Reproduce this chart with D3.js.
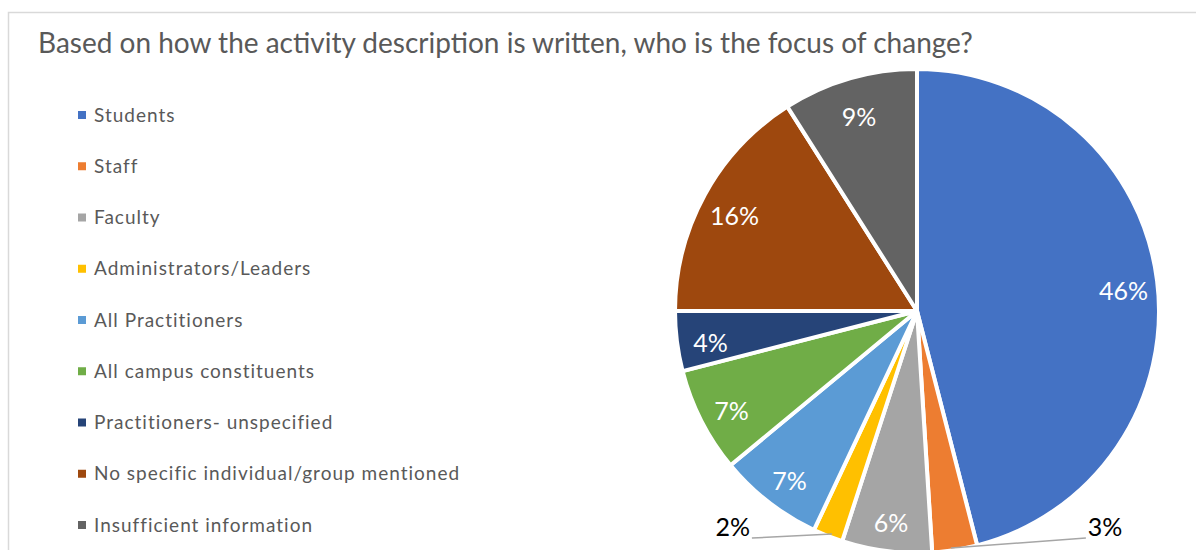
<!DOCTYPE html>
<html>
<head>
<meta charset="utf-8">
<script src="https://cdn.jsdelivr.net/npm/d3@7"></script>
<style>
  html, body { margin: 0; padding: 0; background: #fff; }
  svg { display: block; }
</style>
</head>
<body>
<svg id="chart" width="1196" height="550"></svg>
<script>
// Who is the focus of change, by share of activity descriptions (%)
const categories = [
  "Students",
  "Staff",
  "Faculty",
  "Administrators/Leaders",
  "All Practitioners",
  "All campus constituents",
  "Practitioners- unspecified",
  "No specific individual/group mentioned",
  "Insufficient information"
];
const shares = [46, 3, 6, 2, 7, 7, 4, 16, 9];
const sliceColors = [
  "#4472C4", "#ED7D31", "#A5A5A5", "#FFC000", "#5B9BD5",
  "#70AD47", "#264478", "#9E480E", "#636363"
];
const titleText = "Based on how the activity description is written, who is the focus of change?";

// Small slices get their label outside with a leader line (side: +1 right, -1 left)
const outsideLabels = { "Staff": 1, "Administrators/Leaders": -1 };

const svg = d3.select("#chart");
const W = 1196, H = 550;
const FONT = "Lato, 'Open Sans', sans-serif";

// chart area frame
svg.append("rect")
  .attr("x", 8.5).attr("y", 12.5)
  .attr("width", W + 20).attr("height", H + 20)
  .attr("fill", "#fff")
  .attr("stroke", "#d9d9d9")
  .attr("stroke-width", 1.5);

// title
svg.append("text")
  .attr("x", 38).attr("y", 53)
  .attr("font-family", FONT)
  .attr("font-size", 28)
  .attr("fill", "#595959")
  .text(titleText);

// legend
const legendY = d3.scalePoint()
  .domain(categories)
  .range([115, 525]);
const color = d3.scaleOrdinal().domain(categories).range(sliceColors);

const legend = svg.append("g").attr("class", "legend");
const item = legend.selectAll("g").data(categories).join("g")
  .attr("transform", d => `translate(78,${legendY(d)})`);
item.append("rect")
  .attr("x", 0).attr("y", -4)
  .attr("width", 8).attr("height", 8)
  .attr("fill", d => color(d));
item.append("text")
  .attr("x", 16).attr("y", 0)
  .attr("dy", "0.35em")
  .attr("font-family", FONT)
  .attr("font-size", 19)
  .attr("letter-spacing", 1.0)
  .attr("fill", "#595959")
  .text(d => d);

// pie
const cx = 917, cy = 311, R = 242;
const data = categories.map((c, i) => ({ name: c, value: shares[i] }));
const pie = d3.pie().value(d => d.value).sort(null);
const arcs = pie(data);
const arc = d3.arc().innerRadius(0).outerRadius(R);
const labelArc = d3.arc().innerRadius(R * 0.86).outerRadius(R * 0.86);
const edgeArc = d3.arc().innerRadius(R).outerRadius(R);

const g = svg.append("g").attr("transform", `translate(${cx},${cy})`);

g.selectAll("path.slice").data(arcs).join("path")
  .attr("class", "slice")
  .attr("d", arc)
  .attr("fill", d => color(d.data.name))
  .attr("stroke", "#fff")
  .attr("stroke-width", 4)
  .attr("stroke-linejoin", "round");

// inside labels
g.selectAll("text.inlabel")
  .data(arcs.filter(d => !(d.data.name in outsideLabels)))
  .join("text")
  .attr("class", "inlabel")
  .attr("transform", d => {
    const [x, y] = labelArc.centroid(d);
    return `translate(${x},${y + 6})`;
  })
  .attr("text-anchor", "middle")
  .attr("dy", "0.35em")
  .attr("font-family", FONT)
  .attr("font-size", 25)
  .attr("fill", "#fff")
  .text(d => d.data.value + "%");

// outside labels with leader lines
const outs = arcs.filter(d => d.data.name in outsideLabels);
const leaderLen = { "Staff": 135, "Administrators/Leaders": 80 };
const outLabelY = R * 0.893;
outs.forEach(d => {
  const side = outsideLabels[d.data.name];
  const [ex, ey] = edgeArc.centroid(d);
  const px = ex - side * 4, py = Math.min(ey - 2, H - cy - 2);
  const lx = px + side * leaderLen[d.data.name];
  g.append("polyline")
    .attr("points", `${px},${py} ${lx},${outLabelY + 11}`)
    .attr("fill", "none")
    .attr("stroke", "#a6a6a6")
    .attr("stroke-width", 1.5);
  g.append("text")
    .attr("x", lx + side * 2)
    .attr("y", outLabelY)
    .attr("text-anchor", side > 0 ? "start" : "end")
    .attr("dy", "0.35em")
    .attr("font-family", FONT)
    .attr("font-size", 25)
    .attr("fill", "#000")
    .text(d.data.value + "%");
});
</script>
</body>
</html>
